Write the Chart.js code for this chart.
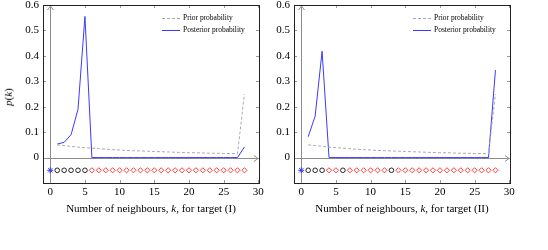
<!DOCTYPE html>
<html>
<head>
<meta charset="utf-8">
<script src="https://cdn.jsdelivr.net/npm/chart.js@4.4.0/dist/chart.umd.min.js"></script>
<style>
  body { margin: 0; background: #fff; width: 548px; height: 250px; overflow: hidden; position: relative; font-family: "Liberation Serif", serif; }
  .panel { position: absolute; top: 0; height: 250px; }
  .xtitle { position: absolute; top: 202px; font-size: 11px; white-space: nowrap; transform: translateX(-50%); color: #000; }
  .ytitle { position: absolute; left: -1px; top: 97px; font-size: 11px; white-space: nowrap; transform: translate(0, -50%) rotate(-90deg); transform-origin: center; color: #000; }
</style>
</head>
<body>
<div class="panel" style="left:0;width:274px"><canvas id="chartI" width="274" height="250"></canvas></div>
<div class="panel" style="left:254px;width:294px"><canvas id="chartII" width="294" height="250"></canvas></div>
<div class="ytitle"><i>p</i>(<i>k</i>)</div>
<div class="xtitle" style="left:151px">Number of neighbours, <i>k</i>, for target (I)</div>
<div class="xtitle" style="left:402px">Number of neighbours, <i>k</i>, for target (II)</div>
<script>
// number of neighbours k
var kValues = [1, 2, 3, 4, 5, 6, 7, 8, 9, 10, 11, 12, 13, 14, 15, 16, 17, 18, 19, 20, 21, 22, 23, 24, 25, 26, 27, 28]
var priorProb = [0.050, 0.047, 0.044, 0.041, 0.039, 0.037, 0.035, 0.033, 0.031, 0.030, 0.028, 0.027, 0.026, 0.025,
                 0.024, 0.023, 0.022, 0.021, 0.020, 0.019, 0.019, 0.018, 0.017, 0.017, 0.016, 0.016, 0.015, 0.250]
var posteriorI = [0.053, 0.060, 0.090, 0.190, 0.555, 0, 0, 0, 0, 0, 0, 0, 0, 0,
                  0, 0, 0, 0, 0, 0, 0, 0, 0, 0, 0, 0, 0, 0.042]
var posteriorII = [0.082, 0.163, 0.418, 0, 0, 0, 0, 0, 0, 0, 0, 0, 0, 0,
                   0, 0, 0, 0, 0, 0, 0, 0, 0, 0, 0, 0, 0, 0.344]

// marker row below zero
var markerRow = -0.05
var starI = [0]
var circleI = [1, 2, 3, 4, 5]
var diamondI = [6, 7, 8, 9, 10, 11, 12, 13, 14, 15, 16, 17, 18, 19, 20, 21, 22, 23, 24, 25, 26, 27, 28]
var starII = [0]
var circleII = [1, 2, 3, 6, 13]
var diamondII = [4, 5, 7, 8, 9, 10, 11, 12, 14, 15, 16, 17, 18, 19, 20, 21, 22, 23, 24, 25, 26, 27, 28]

var xTicks = [0, 5, 10, 15, 20, 25, 30]
var yTicks = [0, 0.1, 0.2, 0.3, 0.4, 0.5, 0.6]
var legendLabels = ['Prior probability', 'Posterior probability']

var tickFont = { family: '"Liberation Serif", serif', size: 11 }

const toPoints = (xs, ys) => xs.map((x, i) => ({ x: x, y: ys[i] }))
const toRow = (xs) => xs.map(x => ({ x: x, y: markerRow }))

// frame, inward ticks, axis lines with arrows, legend
var decorPlugin = {
  id: 'decor',
  beforeDatasetsDraw(chart) {
    var ctx = chart.ctx, a = chart.chartArea
    var x0 = Math.round(chart.scales.x.getPixelForValue(0)) + 0.5
    var y0 = Math.round(chart.scales.y.getPixelForValue(0)) + 0.5
    ctx.save()
    ctx.strokeStyle = '#8c8c8c'
    ctx.lineWidth = 1
    ctx.beginPath()
    ctx.moveTo(a.left, y0); ctx.lineTo(a.right - 1, y0)
    ctx.moveTo(x0, a.bottom); ctx.lineTo(x0, a.top + 1)
    // arrow heads
    ctx.moveTo(a.right - 5, y0 - 3); ctx.lineTo(a.right - 1, y0); ctx.lineTo(a.right - 5, y0 + 3)
    ctx.moveTo(x0 - 3, a.top + 5); ctx.lineTo(x0, a.top + 1); ctx.lineTo(x0 + 3, a.top + 5)
    ctx.stroke()
    ctx.restore()
  },
  afterDraw(chart) {
    var ctx = chart.ctx, a = chart.chartArea
    var sx = chart.scales.x, sy = chart.scales.y
    ctx.save()
    ctx.strokeStyle = '#9a9a9a'
    ctx.lineWidth = 1
    ctx.beginPath()
    xTicks.forEach(v => {
      var px = Math.round(sx.getPixelForValue(v)) + 0.5
      ctx.moveTo(px, a.bottom); ctx.lineTo(px, a.bottom - 3)
      ctx.moveTo(px, a.top); ctx.lineTo(px, a.top + 3)
    })
    yTicks.forEach(v => {
      var py = Math.round(sy.getPixelForValue(v)) + 0.5
      ctx.moveTo(a.left, py); ctx.lineTo(a.left + 3, py)
      ctx.moveTo(a.right, py); ctx.lineTo(a.right - 3, py)
    })
    ctx.stroke()
    ctx.strokeStyle = '#222'
    ctx.strokeRect(Math.round(a.left) + 0.5, Math.round(a.top) + 0.5, Math.round(a.right - a.left), Math.round(a.bottom - a.top))

    // legend
    var lx = a.right - 97, ly = a.top + 13
    ctx.font = '7.5px "Liberation Serif", serif'
    ctx.fillStyle = '#000'
    ctx.textBaseline = 'middle'
    ctx.strokeStyle = '#aaaaaa'
    ctx.setLineDash([3, 2])
    ctx.beginPath(); ctx.moveTo(lx, ly + 0.5); ctx.lineTo(lx + 18, ly + 0.5); ctx.stroke()
    ctx.setLineDash([])
    ctx.strokeStyle = '#3a3aff'
    ctx.beginPath(); ctx.moveTo(lx, ly + 12.5); ctx.lineTo(lx + 18, ly + 12.5); ctx.stroke()
    ctx.fillText(legendLabels[0], lx + 21, ly + 0.5)
    ctx.fillText(legendLabels[1], lx + 21, ly + 12.5)
    ctx.restore()
  }
}

const makeChart = (id, posterior, stars, circles, diamonds, yWidth, rightPad) => {
  var ctx = document.getElementById(id).getContext('2d')
  return new Chart(ctx, {
    type: 'scatter',
    data: {
      datasets: [
        {
          label: legendLabels[0],
          data: toPoints(kValues, priorProb),
          showLine: true,
          borderColor: '#aaaaaa',
          borderWidth: 1,
          borderDash: [3, 2],
          pointRadius: 0,
          fill: false
        },
        {
          label: legendLabels[1],
          data: toPoints(kValues, posterior),
          showLine: true,
          borderColor: '#3a3aff',
          borderWidth: 1,
          pointRadius: 0,
          fill: false
        },
        {
          label: 'star',
          data: toRow(stars),
          pointStyle: 'star',
          pointRadius: 3,
          borderColor: '#3a3aff',
          borderWidth: 1
        },
        {
          label: 'circle',
          data: toRow(circles),
          pointStyle: 'circle',
          pointRadius: 2.3,
          borderColor: '#111',
          backgroundColor: '#fff',
          borderWidth: 0.9
        },
        {
          label: 'diamond',
          data: toRow(diamonds),
          pointStyle: 'rectRot',
          pointRadius: 2.6,
          borderColor: '#ff2a2a',
          backgroundColor: '#fff',
          borderWidth: 0.9
        }
      ]
    },
    options: {
      responsive: false,
      animation: false,
      devicePixelRatio: 1,
      layout: { padding: { left: 0, right: rightPad, top: 4, bottom: 0 } },
      plugins: { legend: { display: false }, tooltip: { enabled: false } },
      scales: {
        x: {
          type: 'linear',
          min: -1.05,
          max: 30.1,
          afterBuildTicks: s => { s.ticks = xTicks.map(v => ({ value: v })) },
          afterFit: s => { s.height = 67; s.paddingLeft = 0; s.paddingRight = 0 },
          grid: { display: false, tickLength: 0 },
          border: { display: false },
          ticks: { font: tickFont, color: '#000', padding: 3, maxRotation: 0 }
        },
        y: {
          type: 'linear',
          min: -0.1,
          max: 0.6,
          afterBuildTicks: s => { s.ticks = yTicks.map(v => ({ value: v })) },
          afterFit: s => { s.width = yWidth; s.paddingTop = 0; s.paddingBottom = 0 },
          grid: { display: false, tickLength: 0 },
          border: { display: false },
          ticks: { font: tickFont, color: '#000', padding: 4, callback: v => v === 0 ? '0' : v.toFixed(1) }
        }
      }
    },
    plugins: [decorPlugin]
  })
}

var chartI = makeChart('chartI', posteriorI, starI, circleI, diamondI, 43, 15)
var chartII = makeChart('chartII', posteriorII, starII, circleII, diamondII, 40, 38)
</script>
</body>
</html>
